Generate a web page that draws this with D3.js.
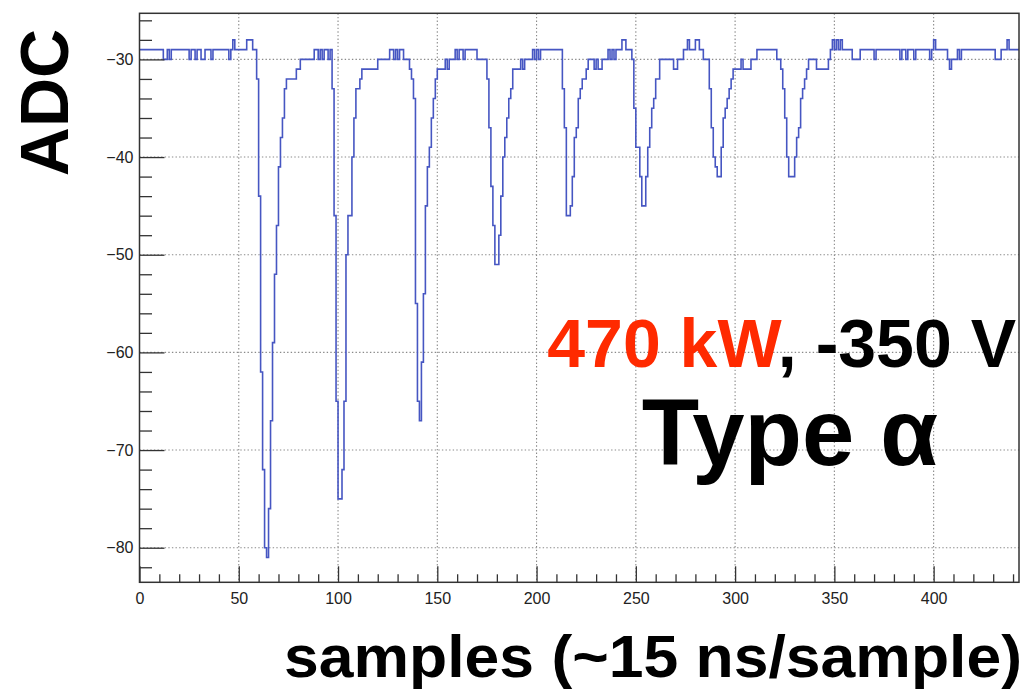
<!DOCTYPE html>
<html>
<head>
<meta charset="utf-8">
<script src="https://cdn.jsdelivr.net/npm/d3@7"></script>
<style>
  html, body { margin: 0; padding: 0; background: #fff; }
  svg { display: block; font-family: "Liberation Sans", Arial, Helvetica, sans-serif; }
</style>
</head>
<body>
<svg id="chart" width="1026" height="691"></svg>
<script>
// ---- data (ADC value of each sample, 0..442) ----
const adc = [
  -29,-29,-29,-29,-29,-29,-29,-29,-29,-29,
  -29,-29,-30,-30,-29,-30,-29,-29,-29,-29,
  -29,-29,-29,-29,-29,-30,-29,-29,-30,-29,
  -29,-30,-30,-29,-29,-29,-30,-29,-29,-29,
  -29,-29,-29,-29,-29,-30,-29,-28,-29,-29,
  -29,-29,-29,-29,-28,-28,-28,-29,-29,-32,
  -44,-62,-72,-80,-81,-76,-67,-59,-52,-47,
  -41,-38,-36,-33,-32,-32,-32,-32,-32,-31,
  -31,-30,-30,-30,-30,-30,-30,-30,-29,-29,
  -30,-29,-30,-29,-29,-30,-29,-33,-46,-65,
  -75,-75,-72,-65,-50,-46,-46,-40,-36,-33,
  -33,-32,-31,-31,-31,-31,-31,-31,-31,-31,
  -30,-30,-30,-30,-30,-30,-29,-29,-30,-29,
  -30,-29,-29,-30,-30,-30,-31,-32,-34,-55,
  -65,-67,-61,-54,-45,-41,-39,-36,-34,-32,
  -31,-31,-31,-31,-30,-31,-30,-30,-30,-29,
  -30,-29,-29,-30,-29,-29,-29,-29,-29,-29,
  -30,-30,-30,-30,-30,-32,-37,-43,-47,-51,
  -51,-48,-44,-40,-38,-36,-34,-33,-31,-31,
  -31,-31,-30,-31,-30,-30,-30,-30,-29,-30,
  -29,-30,-29,-29,-29,-29,-29,-29,-29,-29,
  -29,-29,-29,-33,-37,-46,-46,-45,-42,-38,
  -37,-34,-33,-32,-32,-31,-30,-30,-30,-31,
  -30,-31,-31,-30,-30,-30,-29,-30,-29,-30,
  -29,-29,-29,-28,-28,-29,-29,-29,-30,-35,
  -39,-39,-42,-45,-45,-42,-39,-37,-35,-34,
  -32,-32,-30,-30,-30,-30,-30,-30,-30,-31,
  -31,-30,-30,-30,-29,-29,-28,-29,-29,-29,
  -28,-28,-29,-29,-30,-30,-30,-33,-37,-40,
  -41,-42,-42,-39,-36,-35,-34,-33,-32,-31,
  -31,-31,-31,-30,-31,-31,-31,-31,-30,-30,
  -30,-29,-29,-29,-29,-29,-29,-29,-29,-29,
  -29,-30,-30,-31,-33,-36,-40,-42,-42,-42,
  -40,-38,-37,-34,-33,-32,-31,-30,-30,-30,
  -30,-31,-31,-31,-31,-31,-31,-30,-29,-28,
  -29,-28,-29,-28,-29,-29,-29,-29,-29,-30,
  -30,-30,-30,-29,-29,-29,-29,-29,-29,-29,
  -30,-29,-29,-29,-29,-29,-29,-29,-29,-29,
  -29,-29,-29,-30,-29,-29,-30,-29,-29,-29,
  -30,-29,-29,-29,-29,-29,-29,-29,-30,-29,
  -28,-29,-29,-29,-29,-29,-29,-30,-31,-30,
  -30,-30,-29,-30,-29,-29,-29,-29,-29,-29,
  -29,-29,-29,-29,-29,-29,-29,-29,-29,-29,
  -29,-30,-30,-30,-29,-29,-29,-28,-29,-29,
  -29,-29,-29
];
const xDomain = [0, 443];
const yDomain = [-83.54, -25.28];
const xMajorTicks = [0, 50, 100, 150, 200, 250, 300, 350, 400];
const xMinorTicks = [10,20,30,40,60,70,80,90,110,120,130,140,160,170,180,190,210,220,230,240,260,270,280,290,310,320,330,340,360,370,380,390,410,420,430,440];
const yMajorTicks = [-80, -70, -60, -50, -40, -30];
const yMinorTicks = [-82,-78,-76,-74,-72,-68,-66,-64,-62,-58,-56,-54,-52,-48,-46,-44,-42,-38,-36,-34,-32,-28,-26];
const xTitle = "samples (~15 ns/sample)";
const yTitle = "ADC";
const powerLabel = "470 kW";
const voltageLabel = ", -350 V";
const typeLabel = "Type α";

// ---- layout ----
const svg = d3.select("#chart");
svg.append("rect").attr("width", 1026).attr("height", 691).attr("fill", "#fff");
const P = { left: 139.5, right: 1019, top: 13.3, bottom: 582.3 };
const x = d3.scaleLinear().domain(xDomain).range([P.left, P.right]);
const y = d3.scaleLinear().domain(yDomain).range([P.bottom, P.top]);

// grid
const grid = svg.append("g").attr("stroke", "#8a8a8a").attr("stroke-width", 1.1)
  .attr("stroke-dasharray", "1.4,2.2");
grid.selectAll(".gx").data(xMajorTicks.filter(d => d > 0)).join("line")
  .attr("x1", d => x(d)).attr("x2", d => x(d)).attr("y1", P.top).attr("y2", P.bottom);
grid.selectAll(".gy").data(yMajorTicks).join("line")
  .attr("x1", P.left).attr("x2", P.right).attr("y1", d => y(d)).attr("y2", d => y(d));

// waveform (histogram steps)
svg.append("clipPath").attr("id", "clip").append("rect")
  .attr("x", P.left).attr("y", P.top).attr("width", P.right - P.left).attr("height", P.bottom - P.top);
const pts = adc.map((v, i) => [i, v]);
pts.push([adc.length, adc[adc.length - 1]]);
const line = d3.line().x(d => x(d[0])).y(d => y(d[1])).curve(d3.curveStepAfter);
svg.append("path").datum(pts).attr("clip-path", "url(#clip)")
  .attr("d", line).attr("fill", "none").attr("stroke", "#4656c2").attr("stroke-width", 1.6);

// axes
const axisColor = "#333";
function styleAxis(g) {
  g.select(".domain").remove();
  g.selectAll(".tick line").attr("stroke", axisColor).attr("stroke-width", 1.3);
  g.selectAll("text").attr("fill", "#222").attr("font-size", 16)
    .attr("font-family", "'Liberation Sans', Arial, Helvetica, sans-serif");
}
svg.append("g").attr("transform", `translate(${P.left},0)`)
  .call(d3.axisLeft(y).tickValues(yMajorTicks).tickSize(-25).tickPadding(6).tickFormat(d3.format("d")))
  .call(styleAxis);
svg.append("g").attr("transform", `translate(${P.left},0)`)
  .call(d3.axisLeft(y).tickValues(yMinorTicks).tickSize(-12.5).tickFormat(""))
  .call(styleAxis);
svg.append("g").attr("transform", `translate(0,${P.bottom})`)
  .call(d3.axisBottom(x).tickValues(xMajorTicks).tickSize(-16).tickPadding(10).tickFormat(d3.format("d")))
  .call(styleAxis);
svg.append("g").attr("transform", `translate(0,${P.bottom})`)
  .call(d3.axisBottom(x).tickValues(xMinorTicks).tickSize(-8).tickFormat(""))
  .call(styleAxis);

// frame
svg.append("rect").attr("x", P.left).attr("y", P.top)
  .attr("width", P.right - P.left).attr("height", P.bottom - P.top)
  .attr("fill", "none").attr("stroke", axisColor).attr("stroke-width", 1.5);

// titles
svg.append("text").attr("transform", "translate(68,102.5) rotate(-90)")
  .attr("text-anchor", "middle").attr("font-weight", "bold").attr("font-size", 68)
  .attr("fill", "#000").text(yTitle);
svg.append("text").attr("x", 284).attr("y", 677)
  .attr("font-weight", "bold").attr("font-size", 59).attr("fill", "#000")
  .attr("textLength", 738).attr("lengthAdjust", "spacingAndGlyphs").text(xTitle);

// annotations
const ann = svg.append("text").attr("x", 1016).attr("y", 367).attr("text-anchor", "end")
  .attr("font-weight", "bold").attr("font-size", 68);
ann.append("tspan").attr("fill", "#ff2a00").text(powerLabel);
ann.append("tspan").attr("fill", "#000").text(voltageLabel);
svg.append("text").attr("x", 790).attr("y", 465).attr("text-anchor", "middle")
  .attr("font-weight", "bold").attr("font-size", 94).attr("fill", "#000").text(typeLabel);
</script>
</body>
</html>
